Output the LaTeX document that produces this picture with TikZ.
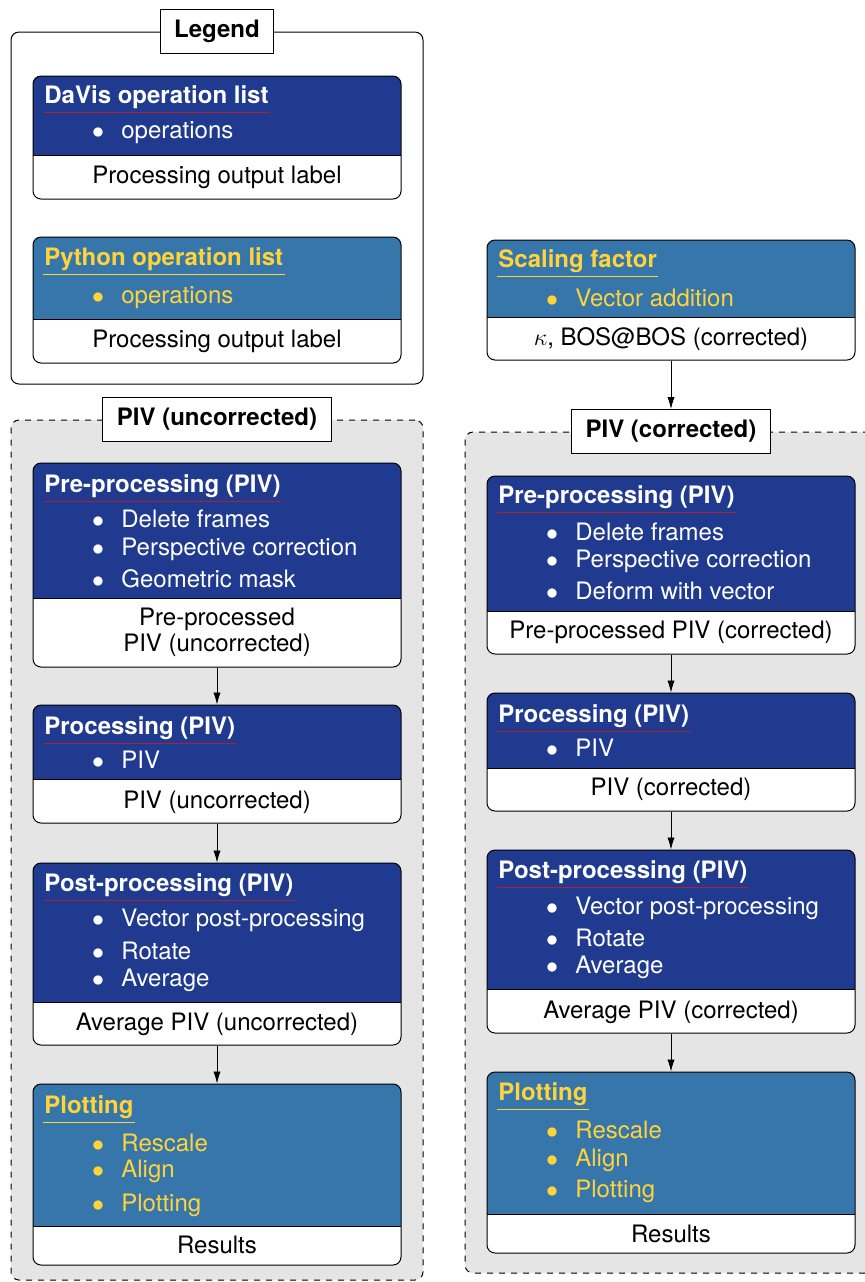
\documentclass[tikz,border=0pt,12pt]{standalone}
\usepackage{fontspec}
\setmainfont{TeX Gyre Heros}
\usetikzlibrary{arrows.meta, fit}

\definecolor{davisblue}{HTML}{203A8F}
\definecolor{davisred}{HTML}{B0202A}
\definecolor{pyblue}{HTML}{3776AB}
\definecolor{pyyellow}{HTML}{FFD43B}
\definecolor{groupgray}{HTML}{E5E5E5}

\tikzset{>={Latex[length=6pt,width=3.6pt]},
	opframe/.style={draw, line width=0.5pt, rounded corners=4pt, inner sep=0pt},
	groupframe/.style={draw, dashed, line width=0.5pt, fill=groupgray, rounded corners=4pt, inner sep=0pt},
	grouplabel/.style={draw, fill=white, line width=0.5pt, font=\bfseries, inner xsep=7pt, minimum height=22pt},
	optitle/.style={anchor=base west, inner xsep=0.5pt, inner ysep=0pt, text depth=4.5pt, font=\bfseries,
		append after command={(\tikzlastnode.south west) edge[draw=#1, line width=0.6pt] (\tikzlastnode.south east)}},
	dtitle/.style={optitle=davisred, text=white},
	ptitle/.style={optitle=pyyellow, text=pyyellow},
	opitem/.style={anchor=base west, inner sep=0pt},
	opbullet/.style={anchor=base, inner sep=0pt},
	outlabel/.style={anchor=base, inner sep=0pt}}

% \opbox{name}{fill}{left x}{top}{divider}{bottom}
\newcommand\opbox[6]{%
	\begin{scope}
		\clip[rounded corners=4pt] (#3,#4) rectangle (#3+368,#6);
		\fill[white] (#3,#4) rectangle (#3+368,#6);
		\fill[#2] (#3,#4) rectangle (#3+368,#5);
	\end{scope}
	\draw[line width=0.5pt] (#3,#5) -- (#3+368,#5);
	\node[opframe, fit={(#3,#4) (#3+368,#6)}] (#1) {};
}

\begin{document}
\begin{tikzpicture}[x=0.5pt, y=-0.5pt]
	\useasboundingbox (0,0) rectangle (864,1282);

	% legend
	\node[opframe, fit={(11,32) (423,384)}] (legend) {};
	\opbox{davisbox}{davisblue}{33}{76}{155}{199}
	\node[dtitle] (davisbox-t) at (43,103) {DaVis operation list};
	\node[opbullet, text=white] (davisbox-b) at (98,138) {$\bullet$};
	\node[opitem, text=white] (davisbox-i) at (121,138) {operations};
	\node[outlabel] (davisbox-o) at (217,183) {Processing output label};

	\opbox{pybox}{pyblue}{33}{237}{319}{363}
	\node[ptitle] (pybox-t) at (43,265) {Python operation list};
	\node[opbullet, text=pyyellow] (pybox-b) at (98,303) {$\bullet$};
	\node[opitem, text=pyyellow] (pybox-i) at (121,303) {operations};
	\node[outlabel] (pybox-o) at (217,347) {Processing output label};
	\node[grouplabel] (legend-l) at (legend.north) {Legend};

	% uncorrected chain
	\node[groupframe, fit={(11,420) (423,1280)}] (uncorr) {};

	\opbox{preL}{davisblue}{33}{463}{598}{667}
	\node[dtitle] (preL-t) at (43,492) {Pre-processing (PIV)};
	\foreach \txt/\y [count=\i] in {Delete frames/527, Perspective correction/555, Geometric mask/587} {
		\node[opbullet, text=white] (preL-b\i) at (98,\y) {$\bullet$};
		\node[opitem, text=white] (preL-i\i) at (121,\y) {\txt};
	}
	\node[outlabel] (preL-o1) at (217,625) {Pre-processed};
	\node[outlabel] (preL-o2) at (217,651) {PIV (uncorrected)};

	\opbox{procL}{davisblue}{33}{705}{779}{823}
	\node[dtitle] (procL-t) at (43,734) {Processing (PIV)};
	\node[opbullet, text=white] (procL-b) at (98,768) {$\bullet$};
	\node[opitem, text=white] (procL-i) at (121,768) {PIV};
	\node[outlabel] (procL-o) at (217,808) {PIV (uncorrected)};

	\opbox{postL}{davisblue}{33}{863}{1002}{1045}
	\node[dtitle] (postL-t) at (43,891) {Post-processing (PIV)};
	\foreach \txt/\y [count=\i] in {Vector post-processing/926, Rotate/959, Average/986} {
		\node[opbullet, text=white] (postL-b\i) at (98,\y) {$\bullet$};
		\node[opitem, text=white] (postL-i\i) at (121,\y) {\txt};
	}
	\node[outlabel] (postL-o) at (217,1030) {Average PIV (uncorrected)};

	\opbox{plotL}{pyblue}{33}{1084}{1226}{1265}
	\node[ptitle] (plotL-t) at (43,1113) {Plotting};
	\foreach \txt/\y [count=\i] in {Rescale/1151, Align/1177, Plotting/1211} {
		\node[opbullet, text=pyyellow] (plotL-b\i) at (98,\y) {$\bullet$};
		\node[opitem, text=pyyellow] (plotL-i\i) at (121,\y) {\txt};
	}
	\node[outlabel] (plotL-o) at (217,1253) {Results};

	\node[grouplabel] (uncorr-l) at (uncorr.north) {PIV (uncorrected)};
	\draw[->] (preL) -- (procL);
	\draw[->] (procL) -- (postL);
	\draw[->] (postL) -- (plotL);

	% corrected chain
	\begin{scope}[xshift=227pt]
		\node[groupframe, fit={(11,432) (423,1273)}] (corr) {};

		\opbox{scale}{pyblue}{33}{240}{317}{360}
		\node[ptitle] (scale-t) at (43,267) {Scaling factor};
		\node[opbullet, text=pyyellow] (scale-b) at (98,306) {$\bullet$};
		\node[opitem, text=pyyellow] (scale-i) at (121,306) {Vector addition};
		\node[outlabel] (scale-o) at (217,345) {$\kappa$, BOS@BOS (corrected)};

		\opbox{preR}{davisblue}{33}{476}{611}{654}
		\node[dtitle] (preR-t) at (43,503) {Pre-processing (PIV)};
		\foreach \txt/\y [count=\i] in {Delete frames/540, Perspective correction/567, Deform with vector/599} {
			\node[opbullet, text=white] (preR-b\i) at (98,\y) {$\bullet$};
			\node[opitem, text=white] (preR-i\i) at (121,\y) {\txt};
		}
		\node[outlabel] (preR-o) at (217,638) {Pre-processed PIV (corrected)};

		\opbox{procR}{davisblue}{33}{693}{768}{811}
		\node[dtitle] (procR-t) at (43,722) {Processing (PIV)};
		\node[opbullet, text=white] (procR-b) at (98,756) {$\bullet$};
		\node[opitem, text=white] (procR-i) at (121,756) {PIV};
		\node[outlabel] (procR-o) at (217,795) {PIV (corrected)};

		\opbox{postR}{davisblue}{33}{850}{989}{1033}
		\node[dtitle] (postR-t) at (43,878) {Post-processing (PIV)};
		\foreach \txt/\y [count=\i] in {Vector post-processing/914, Rotate/946, Average/973} {
			\node[opbullet, text=white] (postR-b\i) at (98,\y) {$\bullet$};
			\node[opitem, text=white] (postR-i\i) at (121,\y) {\txt};
		}
		\node[outlabel] (postR-o) at (217,1018) {Average PIV (corrected)};

		\opbox{plotR}{pyblue}{33}{1072}{1214}{1253}
		\node[ptitle] (plotR-t) at (43,1100) {Plotting};
		\foreach \txt/\y [count=\i] in {Rescale/1138, Align/1166, Plotting/1197} {
			\node[opbullet, text=pyyellow] (plotR-b\i) at (98,\y) {$\bullet$};
			\node[opitem, text=pyyellow] (plotR-i\i) at (121,\y) {\txt};
		}
		\node[outlabel] (plotR-o) at (217,1242) {Results};

		\node[grouplabel] (corr-l) at (corr.north) {PIV (corrected)};
		\draw[->] (scale) -- (corr-l);
		\draw[->] (preR) -- (procR);
		\draw[->] (procR) -- (postR);
		\draw[->] (postR) -- (plotR);
	\end{scope}
\end{tikzpicture}
\end{document}
